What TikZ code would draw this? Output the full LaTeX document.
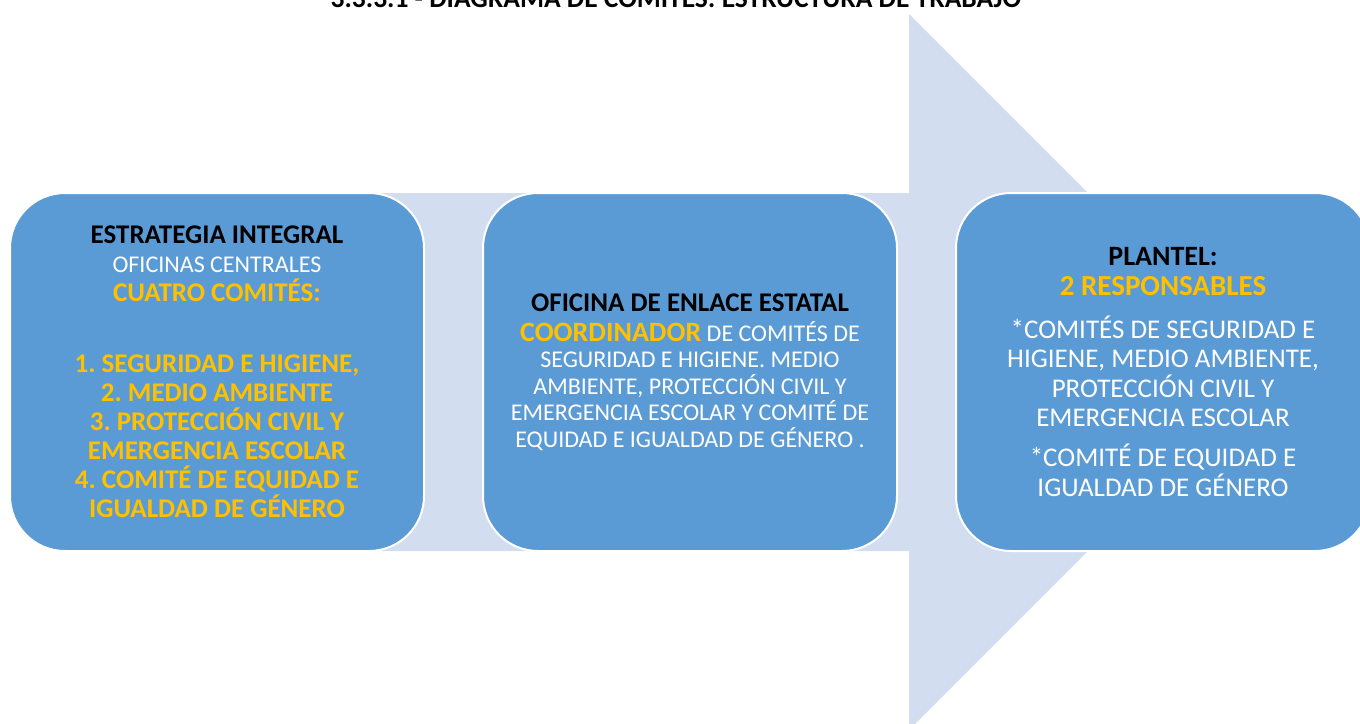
\documentclass[tikz,border=0pt]{standalone}
\usepackage{fontspec}
\setmainfont{Carlito}
\usetikzlibrary{positioning}
\definecolor{azulcaja}{HTML}{5B9BD5}
\definecolor{oro}{HTML}{FFC000}
\definecolor{flechaclara}{HTML}{D2DEEF}
\frenchspacing

\begin{document}
\begin{tikzpicture}[x=1pt,y=-1pt,node distance=57pt,
  caja/.style={draw=white,line width=2pt,fill=azulcaja,rounded corners=55pt,
    minimum width=414pt,minimum height=358pt,align=center,inner sep=0pt}]
\useasboundingbox (0,0) rectangle (1360,723);
\clip (0,0) rectangle (1360,723);

% flecha de fondo
\fill[flechaclara] (377,193) -- (909,193) -- (909,14) -- (1267,372)
  -- (909,730) -- (909,551) -- (377,551) -- cycle;

\node[anchor=base,font=\bfseries\fontsize{27.5}{30}\selectfont] (titulo) at (676,7)
  {3.3.3.1 - DIAGRAMA DE COMITÉS: ESTRUCTURA DE TRABAJO};

\node[caja,font=\bfseries\fontsize{27}{29}\selectfont] (central) at (217,372)
  {ESTRATEGIA INTEGRAL\\
   {\mdseries\fontsize{24}{29}\selectfont\color{white}OFICINAS CENTRALES}\\
   {\color{oro}CUATRO COMITÉS:}\\[42pt]
   {\color{oro}1. SEGURIDAD E HIGIENE,}\\
   {\color{oro}2. MEDIO AMBIENTE}\\
   {\color{oro}3. PROTECCIÓN CIVIL Y}\\
   {\color{oro}EMERGENCIA ESCOLAR}\\
   {\color{oro}4. COMITÉ DE EQUIDAD E}\\
   {\color{oro}IGUALDAD DE GÉNERO}};

\node[caja,right=of central,font=\fontsize{24}{26.5}\selectfont,text=white] (enlace)
  {{\bfseries\fontsize{27}{29}\selectfont\color{black}OFICINA DE ENLACE ESTATAL}\\[3.5pt]
   {\bfseries\fontsize{28}{29}\selectfont\color{oro}COORDINADOR} DE COMITÉS DE\\
   SEGURIDAD E HIGIENE. MEDIO\\
   AMBIENTE, PROTECCIÓN CIVIL Y\\
   EMERGENCIA ESCOLAR Y COMITÉ DE\\
   EQUIDAD E IGUALDAD DE GÉNERO .};

\node[caja,right=of enlace,font=\fontsize{27}{29.5}\selectfont,text=white] (plantel)
  {{\bfseries\fontsize{28}{29}\selectfont\color{black}PLANTEL:}\\
   {\bfseries\fontsize{29}{30}\selectfont\color{oro}2 RESPONSABLES}\\[13.5pt]
   *COMITÉS DE SEGURIDAD E\\
   HIGIENE, MEDIO AMBIENTE,\\
   PROTECCIÓN CIVIL Y\\
   EMERGENCIA ESCOLAR\\[10.5pt]
   *COMITÉ DE EQUIDAD E\\
   IGUALDAD DE GÉNERO};
\end{tikzpicture}
\end{document}
